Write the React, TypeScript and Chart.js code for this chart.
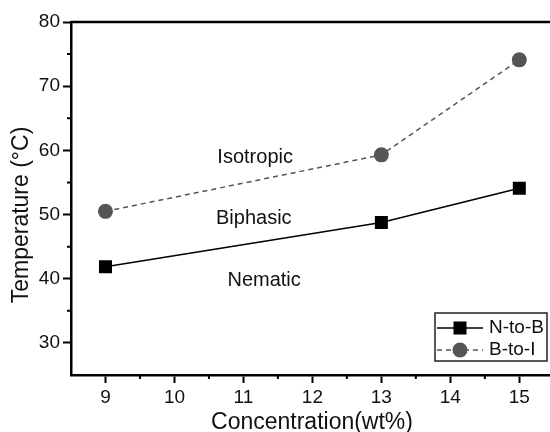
import React, { useEffect, useRef } from "react";
import { Chart, registerables } from "chart.js";

Chart.register(...registerables);

const concentrations = [9, 13, 15];
const nToB = [41.85, 48.75, 54.1];
const bToI = [50.5, 59.3, 74.1];

const seriesNames = ["N-to-B", "B-to-I"];

const xMajorTicks = [9, 10, 11, 12, 13, 14, 15];
const xMinorTicks = [9.5, 10.5, 11.5, 12.5, 13.5, 14.5, 15.5];
const yMajorTicks = [30, 40, 50, 60, 70, 80];
const yMinorTicks = [35, 45, 55, 65, 75];

const regionLabels = ["Isotropic", "Biphasic", "Nematic"];
const regionX = [11.17, 11.15, 11.3];
const regionY = [58.9, 49.4, 39.8];

const FONT = "'Liberation Sans', Arial, sans-serif";
const GREY = "#555555";

const decorPlugin = {
  id: "decor",
  afterDraw(chart: any) {
    const { ctx, chartArea, scales } = chart;
    const xs = scales.x;
    const ys = scales.y;
    ctx.save();
    // top border
    ctx.strokeStyle = "#000";
    ctx.lineWidth = 2.5;
    ctx.beginPath();
    ctx.moveTo(chartArea.left, chartArea.top);
    ctx.lineTo(chartArea.right, chartArea.top);
    ctx.stroke();
    // minor ticks
    ctx.lineWidth = 2;
    ctx.beginPath();
    xMinorTicks.forEach((v) => {
      const px = xs.getPixelForValue(v);
      ctx.moveTo(px, chartArea.bottom);
      ctx.lineTo(px, chartArea.bottom + 4);
    });
    yMinorTicks.forEach((v) => {
      const py = ys.getPixelForValue(v);
      ctx.moveTo(chartArea.left, py);
      ctx.lineTo(chartArea.left - 4, py);
    });
    ctx.stroke();

    // region labels
    ctx.fillStyle = "#111";
    ctx.font = `20px ${FONT}`;
    ctx.textAlign = "center";
    ctx.textBaseline = "middle";
    regionLabels.forEach((t, i) => {
      ctx.fillText(t, xs.getPixelForValue(regionX[i]), ys.getPixelForValue(regionY[i]));
    });

    // axis titles
    ctx.font = `23px ${FONT}`;
    ctx.textAlign = "center";
    ctx.textBaseline = "alphabetic";
    ctx.fillText("Concentration(wt%)", 312, 429);
    ctx.save();
    ctx.translate(28, 215);
    ctx.rotate(-Math.PI / 2);
    ctx.fillText("Temperature (\u00B0C)", 0, 0);
    ctx.restore();

    // legend
    const bx = 435;
    const by = 313;
    const bw = 112;
    const bh = 48;
    ctx.fillStyle = "#fff";
    ctx.fillRect(bx, by, bw, bh);
    ctx.strokeStyle = "#222";
    ctx.lineWidth = 1.5;
    ctx.strokeRect(bx, by, bw, bh);
    const rows = [by + 15, by + 37];
    ctx.strokeStyle = "#000";
    ctx.lineWidth = 1.5;
    ctx.setLineDash([]);
    ctx.beginPath();
    ctx.moveTo(bx + 2, rows[0]);
    ctx.lineTo(bx + 48, rows[0]);
    ctx.stroke();
    ctx.fillStyle = "#000";
    ctx.fillRect(bx + 25 - 6.5, rows[0] - 6.5, 13, 13);
    ctx.strokeStyle = GREY;
    ctx.setLineDash([5, 4]);
    ctx.beginPath();
    ctx.moveTo(bx + 2, rows[1]);
    ctx.lineTo(bx + 48, rows[1]);
    ctx.stroke();
    ctx.setLineDash([]);
    ctx.fillStyle = GREY;
    ctx.beginPath();
    ctx.arc(bx + 25, rows[1], 7.5, 0, Math.PI * 2);
    ctx.fill();
    ctx.fillStyle = "#111";
    ctx.font = `19px ${FONT}`;
    ctx.textAlign = "left";
    ctx.textBaseline = "middle";
    ctx.fillText(seriesNames[0], bx + 54, rows[0]);
    ctx.fillText(seriesNames[1], bx + 54, rows[1]);
    ctx.restore();
  },
};

export default function App() {
  const ref = useRef<HTMLCanvasElement>(null);
  useEffect(() => {
    if (!ref.current) return;
    const chart = new Chart(ref.current, {
      type: "line",
      data: {
        datasets: [
          {
            label: seriesNames[0],
            data: concentrations.map((c, i) => ({ x: c, y: nToB[i] })),
            borderColor: "#000",
            backgroundColor: "#000",
            borderWidth: 1.5,
            pointStyle: "rect",
            pointRadius: 9.2,
            pointBorderWidth: 0,
            tension: 0,
          },
          {
            label: seriesNames[1],
            data: concentrations.map((c, i) => ({ x: c, y: bToI[i] })),
            borderColor: GREY,
            backgroundColor: GREY,
            borderWidth: 1.5,
            borderDash: [5, 4],
            pointStyle: "circle",
            pointRadius: 7.5,
            pointBorderWidth: 0,
            tension: 0,
          },
        ],
      },
      options: {
        responsive: false,
        animation: false,
        layout: { padding: { top: 22, right: 2.5, left: 0, bottom: 0 } },
        plugins: { legend: { display: false }, tooltip: { enabled: false } },
        scales: {
          x: {
            type: "linear",
            min: 8.5,
            max: 15.5,
            afterBuildTicks: (s: any) => {
              s.ticks = xMajorTicks.map((v) => ({ value: v }));
            },
            afterFit: (s: any) => {
              s.height = 57;
              s.paddingLeft = 0;
              s.paddingRight = 0;
            },
            border: { display: true, color: "#000", width: 2.5 },
            grid: { drawOnChartArea: false, drawTicks: true, tickLength: 8, tickColor: "#000", tickWidth: 2 },
            ticks: { color: "#111", font: { family: FONT, size: 19 }, padding: 3, maxRotation: 0 },
          },
          y: {
            type: "linear",
            min: 25,
            max: 80,
            afterBuildTicks: (s: any) => {
              s.ticks = yMajorTicks.map((v) => ({ value: v }));
            },
            afterFit: (s: any) => {
              s.width = 71;
              s.paddingTop = 0;
              s.paddingBottom = 0;
            },
            border: { display: true, color: "#000", width: 2.5 },
            grid: { drawOnChartArea: false, drawTicks: true, tickLength: 8, tickColor: "#000", tickWidth: 2 },
            ticks: { color: "#111", font: { family: FONT, size: 19 }, padding: 3 },
          },
        },
      },
      plugins: [decorPlugin],
    });
    return () => chart.destroy();
  }, []);
  return (
    <div style={{ position: "fixed", left: 0, top: 0, width: 550, height: 432, overflow: "hidden", background: "#fff" }}>
      <canvas ref={ref} width={563} height={432} style={{ display: "block" }} />
    </div>
  );
}
